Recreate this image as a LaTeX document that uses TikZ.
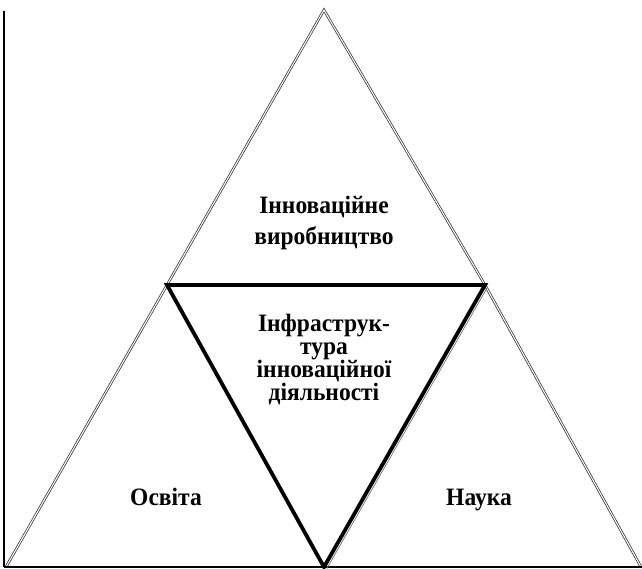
\documentclass[tikz,border=0pt]{standalone}
\usepackage{fontspec}
\setmainfont{Liberation Serif}
\newfontfamily\lblfont[FakeStretch=0.94]{Liberation Serif}
\begin{document}
\begin{tikzpicture}[x=1pt,y=-1pt,
  outerline/.style={draw=black!85,double=white,line width=0.7pt,double distance=1.1pt,line join=miter},
  innerline/.style={draw=black,line width=3.8pt,line join=miter},
  thinline/.style={draw=black,line width=1.3pt},
  txt/.style={font=\lblfont\fontsize{25}{23}\selectfont\bfseries,align=center,inner sep=0pt,anchor=base},
]
\useasboundingbox (0,0) rectangle (642,569);
\coordinate (A) at (324,10);
\coordinate (L) at (6,567);
\coordinate (R) at (641,567);
\coordinate (IL) at (167,285);
\coordinate (IR) at (485,285);
\coordinate (IB) at (324,567);
\coordinate (BL) at (4,567);
\coordinate (BR) at (642,567);
\coordinate (TL) at (4,11);
\draw[outerline] (L) -- (IL) -- (A) -- (IR) -- (R);
\draw[thinline] (BL) -- (BR);
\draw[thinline] (TL) -- (BL);
\draw[draw=black!55,line width=0.7pt] ([shift={(2.8,1.6)}]IR) -- ([shift={(2.8,1.6)}]IB);
\draw[innerline] (IL) -- (IR) -- (IB) -- cycle;
\node[txt,font=\lblfont\fontsize{25}{30.7}\selectfont\bfseries] (prod) at (324,244) {Інноваційне\\виробництво};
\node[txt] (infra) at (324,400) {Інфраструк-\\тура\\інноваційної\\діяльності};
\node[txt] (osv) at (166,505) {Освіта};
\node[txt] (nauka) at (479,505) {Наука};
\end{tikzpicture}
\end{document}
